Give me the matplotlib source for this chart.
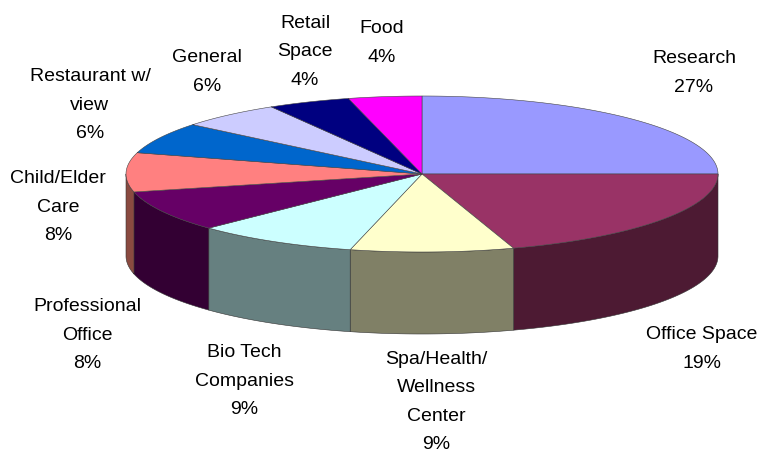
import numpy as np
import matplotlib
matplotlib.use("Agg")
import matplotlib.pyplot as plt

labels = ["Research", "Office Space", "Spa/Health/\nWellness\nCenter", "Bio Tech\nCompanies",
          "Professional\nOffice", "Child/Elder\nCare", "Restaurant w/\nview", "General",
          "Retail\nSpace", "Food"]
percents = [27, 19, 9, 9, 8, 8, 6, 6, 4, 4]
# slice sizes as they appear in the drawn (projected) pie
shares = [25.0, 20.0, 8.9, 8.9, 8.5, 8.1, 6.5, 5.6, 4.5, 4.0]
top_colors = ["#9999FF", "#993366", "#FFFFCC", "#CCFFFF", "#660066",
              "#FF8080", "#0066CC", "#CCCCFF", "#000080", "#FF00FF"]
wall_colors = ["#4D4D80", "#4D1A33", "#808066", "#668080", "#330033",
               "#8A4A40", "#003366", "#666680", "#000040", "#800080"]
label_centers = [(694, 73), (702, 349), (436, 402), (244, 381), (87, 335),
                 (58, 207), (90, 105), (207, 72), (305, 52), (382, 43)]

CX, CY, RX, RY, DEPTH = 422, 174, 296, 78, 82

plt.rcParams["font.family"] = ["Liberation Sans", "DejaVu Sans"]
fig = plt.figure(figsize=(7.59, 4.54), dpi=100, facecolor="white")
ax = fig.add_axes([0, 0, 1, 1])
ax.set_xlim(0, 759)
ax.set_ylim(454, 0)
ax.axis("off")


def rim(a0, a1):
    t = np.radians(np.linspace(a0, a1, 120))
    return CX + RX * np.sin(t), CY - RY * np.cos(t)


edges = np.concatenate([[0], np.cumsum(shares)]) / sum(shares) * 360

# walls: only the front half of the pie shows its side
for a0, a1, wc in zip(edges[:-1], edges[1:], wall_colors):
    lo, hi = max(a0, 90), min(a1, 270)
    if lo >= hi:
        continue
    x, y = rim(lo, hi)
    ax.fill(np.r_[x, x[::-1]], np.r_[y, y[::-1] + DEPTH], facecolor=wc,
            edgecolor="#333333", linewidth=0.4, joinstyle="round")

# top faces
for a0, a1, tc in zip(edges[:-1], edges[1:], top_colors):
    x, y = rim(a0, a1)
    ax.fill(np.r_[CX, x], np.r_[CY, y], facecolor=tc,
            edgecolor="#444444", linewidth=0.4, joinstyle="round")

for lab, pct, (lx, ly) in zip(labels, percents, label_centers):
    ax.text(lx, ly, f"{lab}\n{pct}%", ha="center", va="center", fontsize=14,
            linespacing=1.85, color="black")

fig.savefig("out.png", dpi=100, facecolor="white")
